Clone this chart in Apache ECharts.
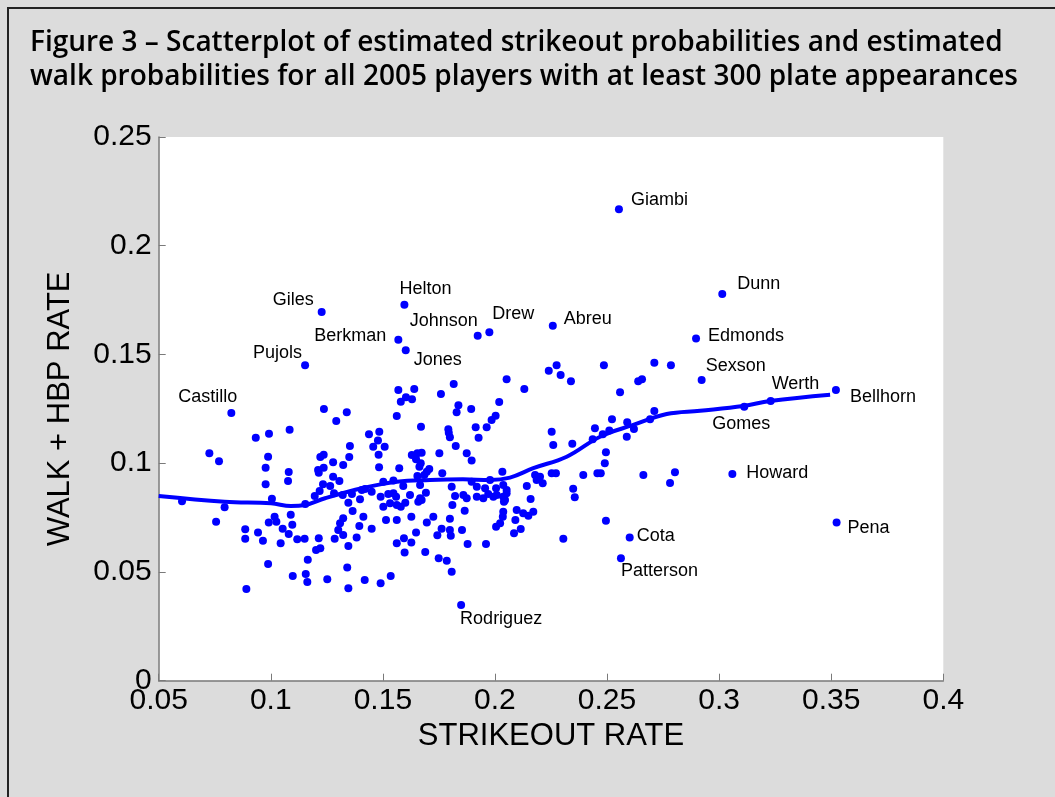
<!DOCTYPE html>
<html><head><meta charset="utf-8">
<script src="https://cdn.jsdelivr.net/npm/echarts@6/dist/echarts.min.js"></script>
<style>html,body{margin:0;padding:0;background:#dcdcdc;}#c{width:1055px;height:797px;}</style>
</head><body><div id="c"></div>
<script>
// ---- DATA ----
const strikeoutRate = [
0.1237,0.1292,0.0933,0.0992,0.1084,0.0726,0.0769,0.0988,0.0977,0.108,0.1077,0.0977,0.1221,0.1236,0.1278,0.1211,0.1236,0.1214,0.1278,0.1233,0.1265,0.1218,0.1196,0.0604,0.0794,0.1005,0.1154,0.0756,0.1089,0.1017,0.0991,0.1025,0.1096,0.1053,0.0886,0.0886,0.0943,0.0965,0.108,0.1044,0.1118,0.1151,0.1214,0.1285,0.1202,0.1221,0.1165,0.0988,0.1098,0.1156,0.1163,0.1252,0.0891,
0.1569,0.164,0.158,0.1603,0.163,0.1816,0.1759,0.2052,0.1339,0.1562,0.1837,0.1829,0.1894,0.2019,0.2003,0.1985,0.1963,0.1914,0.1927,0.167,0.1792,0.1799,0.1794,0.1438,0.1484,0.1478,0.1457,0.1508,0.1481,0.1353,0.135,0.1323,0.1825,0.1874,0.1896,0.1752,0.1629,0.1654,0.1673,0.1648,0.1669,0.1663,0.1483,0.1573,0.1707,0.1696,0.1765,0.1654,0.1685,0.2033,0.1306,0.1502,0.1547,0.1591,0.1666,0.1807,0.1896,0.1919,0.1956,0.1978,0.2005,0.2037,0.2052,0.1282,0.1321,0.1362,0.1406,0.142,0.145,0.149,0.1524,0.1547,0.1559,0.1621,0.1666,0.1692,0.1822,0.1859,0.1874,0.1919,0.1948,0.197,0.1993,0.2008,0.2037,0.204,0.1346,0.1398,0.1502,0.1532,0.1562,0.158,0.16,0.1658,0.1673,0.181,0.1365,0.1323,0.1309,0.1301,0.1323,0.1413,0.1395,0.145,0.1383,0.1346,0.1514,0.1562,0.1627,0.1725,0.1696,0.1799,0.1865,0.1648,0.1762,0.1743,0.1799,0.1803,0.1853,0.2037,0.2035,0.2023,0.2005,0.1562,0.1594,0.1627,0.1597,0.1689,0.1878,0.196,0.1749,0.1785,0.1807,0.1341,0.1346,0.1419,0.149,0.1535,
0.2131,0.224,0.2275,0.2293,0.2339,0.2486,0.2711,0.2785,0.2639,0.2656,0.2558,0.2711,0.2692,0.2522,0.259,0.262,0.2588,0.2446,0.2436,0.2481,0.251,0.2253,0.226,0.2345,0.2495,0.249,0.2253,0.2272,0.2179,0.2201,0.2213,0.2186,0.2394,0.2457,0.2472,0.2662,0.2803,0.2781,0.2142,0.2349,0.2356,0.2052,0.2045,0.2159,0.2097,0.2126,0.2149,0.2171,0.2091,0.2115,0.2085,0.2495,0.2305
];
const walkRate = [
0.1249,0.1194,0.1117,0.1136,0.1154,0.1046,0.1009,0.103,0.0979,0.096,0.0918,0.0903,0.1029,0.1039,0.1004,0.0969,0.0979,0.0956,0.0938,0.0903,0.0895,0.0872,0.0849,0.0825,0.0797,0.0837,0.0812,0.0731,0.0763,0.0754,0.0727,0.0731,0.0717,0.0699,0.0696,0.0653,0.0681,0.0644,0.0675,0.0632,0.065,0.0653,0.0655,0.0653,0.0601,0.0609,0.0556,0.0537,0.0481,0.0491,0.0454,0.0466,0.0422,
0.1337,0.1341,0.1283,0.1303,0.1294,0.1364,0.1318,0.1386,0.1234,0.1217,0.1266,0.1234,0.1249,0.1281,0.1218,0.1199,0.1165,0.1165,0.1117,0.1168,0.1156,0.1119,0.114,0.1133,0.1145,0.1104,0.1076,0.1076,0.1039,0.1079,0.1029,0.0992,0.1079,0.1046,0.1013,0.1046,0.1038,0.1046,0.1048,0.1018,0.1,0.0984,0.0981,0.0977,0.0973,0.0961,0.0954,0.0941,0.0946,0.0961,0.0918,0.0915,0.092,0.0895,0.09,0.0892,0.0915,0.0892,0.0885,0.0923,0.0885,0.09,0.0877,0.0862,0.0854,0.0858,0.0877,0.0881,0.0869,0.0846,0.0858,0.0862,0.0846,0.0854,0.0839,0.0864,0.0849,0.0854,0.0839,0.0846,0.0839,0.0858,0.0846,0.0854,0.0846,0.0823,0.0818,0.0834,0.08,0.0816,0.0808,0.08,0.0818,0.0823,0.0831,0.0808,0.078,0.0747,0.0724,0.0693,0.067,0.0754,0.0711,0.0699,0.0659,0.0619,0.0739,0.0739,0.0754,0.0754,0.0727,0.0745,0.0782,0.0682,0.0699,0.0669,0.0693,0.0667,0.0693,0.0777,0.0754,0.0724,0.0708,0.0632,0.0655,0.0636,0.0589,0.0592,0.0629,0.0629,0.0563,0.0552,0.0501,0.0521,0.0425,0.0463,0.0448,0.0481,
0.1341,0.1425,0.145,0.1406,0.1377,0.145,0.1462,0.145,0.1377,0.1386,0.1326,0.124,0.1202,0.1202,0.1188,0.1157,0.1122,0.1161,0.111,0.1133,0.115,0.1145,0.1084,0.109,0.105,0.1,0.0954,0.0954,0.0946,0.0938,0.0908,0.0923,0.0946,0.0954,0.0954,0.0946,0.0958,0.0909,0.0895,0.0883,0.0843,0.0862,0.0831,0.0835,0.0785,0.077,0.0759,0.0777,0.0739,0.0698,0.0678,0.0736,0.0653
];
const playerNames = ['Giambi','Dunn','Edmonds','Sexson','Werth','Gomes','Bellhorn','Howard','Pena','Abreu','Drew','Johnson','Helton','Giles','Berkman','Jones','Pujols','Castillo','Cota','Patterson','Rodriguez'];
const playerK  = [0.2553,0.3014,0.2897,0.2922,0.323,0.3112,0.3521,0.3059,0.3524,0.2258,0.1975,0.1923,0.1596,0.1227,0.1569,0.1602,0.1153,0.0824,0.2601,0.2562,0.1849];
const playerBB = [0.2168,0.1778,0.1573,0.1383,0.1286,0.126,0.1337,0.095,0.0727,0.1632,0.1602,0.1586,0.1729,0.1695,0.1568,0.1519,0.145,0.1231,0.0658,0.0563,0.0348];
const smoothK  = [0.05,0.0794,0.1001,0.109,0.1153,0.1242,0.1411,0.1562,0.171,0.1857,0.1978,0.2067,0.2171,0.232,0.2469,0.2617,0.2766,0.2915,0.3108,0.3227,0.3495];
const smoothBB = [0.0849,0.0823,0.0816,0.0803,0.0808,0.0839,0.0886,0.0915,0.0923,0.0926,0.0923,0.0934,0.0977,0.103,0.1122,0.1176,0.1226,0.1241,0.1263,0.1286,0.1315];
const xTicks = [0.05,0.1,0.15,0.2,0.25,0.3,0.35,0.4];
const yTicks = [0,0.05,0.1,0.15,0.2,0.25];

// ---- STYLE (label offsets from point, px) ----
const labelOffset = {
  Giambi:[12,-9], Dunn:[15,-10], Edmonds:[12,-3], Sexson:[4,-14], Werth:[1,-17], Gomes:[-32,17],
  Bellhorn:[14,7], Howard:[14,-1], Pena:[11,5], Abreu:[11,-7], Drew:[3,-18], Johnson:[-68,-15],
  Helton:[-5,-16], Giles:[-49,-12], Berkman:[-84,-4], Jones:[8,10], Pujols:[-52,-12], Castillo:[-53,-16],
  Cota:[7,-2], Patterson:[0,13], Rodriguez:[-1,14]
};
const SYM = 8;
const BLUE = '#0000ff';

const pts = strikeoutRate.map((k,i)=>[k, walkRate[i]]);
const named = playerNames.map((n,i)=>({
  value:[playerK[i], playerBB[i]], name:n,
  label:{show:true, formatter:n, position:[SYM/2+labelOffset[n][0], SYM/2+labelOffset[n][1]], align:'left', verticalAlign:'middle'}
}));
const curve = smoothK.map((k,i)=>[k, smoothBB[i]]);

const fmt = v => { const r = Math.round(v*100)/100; return String(r); };

const chart = echarts.init(document.getElementById('c'), null, {renderer:'canvas'});
chart.setOption({
  animation:false,
  backgroundColor:'#dcdcdc',
  graphic:[{type:'rect', shape:{x:8,y:8,width:1200,height:900}, style:{fill:'#dcdcdc', stroke:'#222', lineWidth:2}, z:-10}],
  title:{
    text:'Figure 3 – Scatterplot of estimated strikeout probabilities and estimated\nwalk probabilities for all 2005 players with at least 300 plate appearances',
    left:25, top:21,
    textStyle:{fontFamily:'Open Sans', fontWeight:600, fontSize:28, lineHeight:34, color:'#000'}
  },
  grid:{left:158.7, right:111.7, top:137, bottom:116.3, show:true, backgroundColor:'#fff', borderWidth:0},
  xAxis:{
    type:'value', min:xTicks[0], max:xTicks[xTicks.length-1], interval:0.05,
    axisLine:{show:true, lineStyle:{color:'#7a7a7a', width:1.5}},
    axisTick:{show:true, inside:true, length:7, lineStyle:{color:'#7a7a7a'}},
    splitLine:{show:false},
    axisLabel:{fontFamily:'Liberation Sans', fontSize:30, color:'#000', margin:5, formatter:fmt, showMinLabel:true, showMaxLabel:true, hideOverlap:false},
    name:'STRIKEOUT RATE', nameLocation:'middle', nameGap:36,
    nameTextStyle:{fontFamily:'Liberation Sans', fontSize:31, color:'#000'}
  },
  yAxis:{
    type:'value', min:yTicks[0], max:yTicks[yTicks.length-1], interval:0.05,
    axisLine:{show:true, lineStyle:{color:'#7a7a7a', width:1.5}},
    axisTick:{show:true, inside:true, length:7, lineStyle:{color:'#7a7a7a'}},
    splitLine:{show:false},
    axisLabel:{fontFamily:'Liberation Sans', fontSize:30, color:'#000', margin:7, formatter:fmt, showMinLabel:true, showMaxLabel:true, hideOverlap:false},
    name:'WALK + HBP RATE', nameLocation:'middle', nameGap:83,
    nameTextStyle:{fontFamily:'Liberation Sans', fontSize:31, color:'#000'}
  },
  series:[
    {type:'scatter', data:pts, symbol:'circle', symbolSize:SYM, itemStyle:{color:BLUE, opacity:1}, silent:true, z:2},
    {type:'line', data:curve, smooth:0.4, showSymbol:false, lineStyle:{color:BLUE, width:4, opacity:1}, silent:true, z:3},
    {type:'scatter', data:named, symbol:'circle', symbolSize:SYM, itemStyle:{color:BLUE, opacity:1}, silent:true, z:4,
     label:{fontFamily:'Liberation Sans', fontSize:18, color:'#000'}, labelLayout:{hideOverlap:false}}
  ]
});
</script></body></html>
